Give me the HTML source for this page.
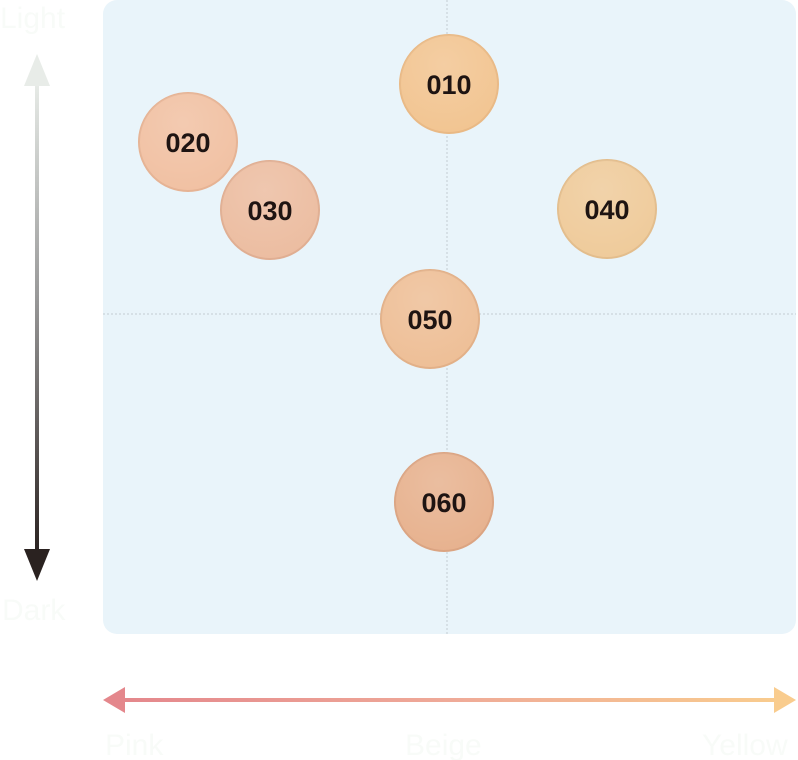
<!DOCTYPE html>
<html><head><meta charset="utf-8"><style>
html,body{margin:0;padding:0;background:#fff;width:798px;height:760px;overflow:hidden}
svg{display:block}
text{font-family:"Liberation Sans",sans-serif}
</style></head><body>
<svg width="798" height="760" viewBox="0 0 798 760" xmlns="http://www.w3.org/2000/svg">
<defs>
<linearGradient id="vg" x1="0" y1="0" x2="0" y2="1">
<stop offset="0" stop-color="#e8ece8"/><stop offset="0.45" stop-color="#9a9a9a"/><stop offset="1" stop-color="#2a2220"/>
</linearGradient>
<linearGradient id="hg" x1="0" y1="0" x2="1" y2="0">
<stop offset="0" stop-color="#e4878c"/><stop offset="0.5" stop-color="#efaa98"/><stop offset="1" stop-color="#f9cc8e"/>
</linearGradient>
<radialGradient id="sh" cx="0.45" cy="0.3" r="0.7">
<stop offset="0" stop-color="#fff" stop-opacity="0.15"/><stop offset="1" stop-color="#fff" stop-opacity="0"/>
</radialGradient>
</defs>
<rect x="103" y="0" width="693" height="634" rx="14" fill="#e9f4fa"/>
<line x1="447" y1="0" x2="447" y2="634" stroke="#c4ccd2" stroke-width="1" stroke-dasharray="2,2"/>
<line x1="103" y1="314" x2="796" y2="314" stroke="#c4ccd2" stroke-width="1" stroke-dasharray="2,2"/>
<text x="0" y="28" font-size="30" fill="#f8fbf8">Light</text>
<text x="2" y="620" font-size="30" fill="#f8fbf8">Dark</text>
<text x="105" y="755" font-size="30" fill="#f8fbf8">Pink</text>
<text x="405" y="755" font-size="30" fill="#f8fbf8">Beige</text>
<text x="702" y="755" font-size="30" fill="#f8fbf8">Yellow</text>
<rect x="35" y="80" width="4" height="475" fill="url(#vg)"/>
<polygon points="37,54 24,86 50,86" fill="#e8ece8"/>
<polygon points="37,581 24,549 50,549" fill="#2a2220"/>
<rect x="120" y="698" width="660" height="4" fill="url(#hg)"/>
<polygon points="103,700 125,687 125,713" fill="#e4878c"/>
<polygon points="796,700 774,687 774,713" fill="#f9cc8e"/>
<g font-size="27" font-weight="bold" fill="#1e1412" text-anchor="middle">
<circle cx="449" cy="84" r="49" fill="#f2c592" stroke="#e9b985" stroke-width="2"/><circle cx="449" cy="84" r="49" fill="url(#sh)"/><text x="449" y="94">010</text>
<circle cx="188" cy="142" r="49" fill="#f1c1a3" stroke="#e6b394" stroke-width="2"/><circle cx="188" cy="142" r="49" fill="url(#sh)"/><text x="188" y="152">020</text>
<circle cx="270" cy="210" r="49" fill="#ecbda1" stroke="#e0ae92" stroke-width="2"/><circle cx="270" cy="210" r="49" fill="url(#sh)"/><text x="270" y="220">030</text>
<circle cx="607" cy="209" r="49" fill="#efcb9b" stroke="#e3bd8c" stroke-width="2"/><circle cx="607" cy="209" r="49" fill="url(#sh)"/><text x="607" y="219">040</text>
<circle cx="430" cy="319" r="49" fill="#eebf97" stroke="#e2b088" stroke-width="2"/><circle cx="430" cy="319" r="49" fill="url(#sh)"/><text x="430" y="329">050</text>
<circle cx="444" cy="502" r="49" fill="#e7b28f" stroke="#dba482" stroke-width="2"/><circle cx="444" cy="502" r="49" fill="url(#sh)"/><text x="444" y="512">060</text>
</g>
</svg>
</body></html>
